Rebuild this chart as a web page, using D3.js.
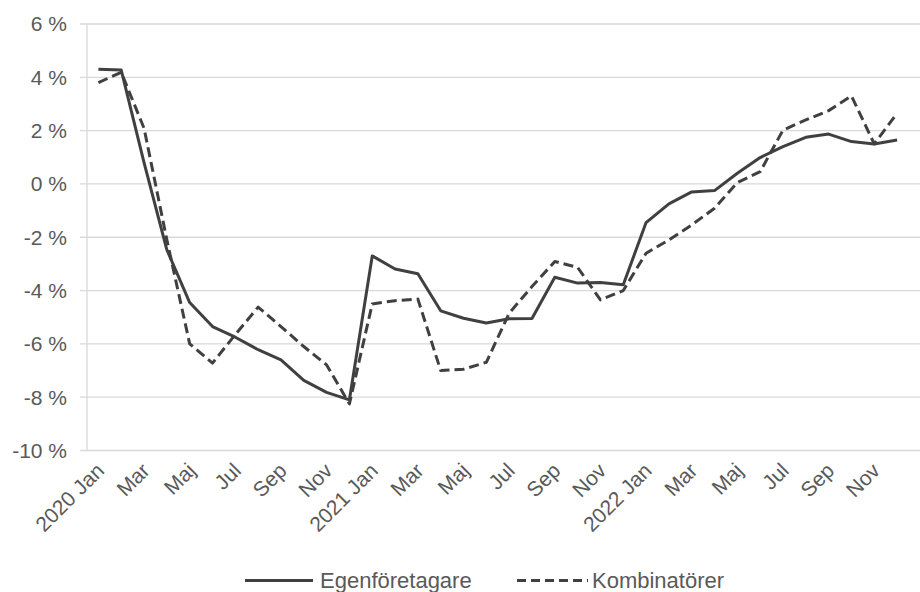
<!DOCTYPE html>
<html>
<head>
<meta charset="utf-8">
<script src="https://cdn.jsdelivr.net/npm/d3@7"></script>
<style>
  body { margin: 0; background: #fff; }
  text { font-family: "Liberation Sans", Arial, sans-serif; fill: #595959; }
</style>
</head>
<body>
<div id="chart"></div>
<script>
// months 2020 Jan .. 2022 Dec
var months = [
  "2020 Jan", "Feb", "Mar", "Apr", "Maj", "Jun", "Jul", "Aug", "Sep", "Okt", "Nov", "Dec",
  "2021 Jan", "Feb", "Mar", "Apr", "Maj", "Jun", "Jul", "Aug", "Sep", "Okt", "Nov", "Dec",
  "2022 Jan", "Feb", "Mar", "Apr", "Maj", "Jun", "Jul", "Aug", "Sep", "Okt", "Nov", "Dec"
];

// only every second month gets a label
var tickMonths = [
  "2020 Jan", "Mar", "Maj", "Jul", "Sep", "Nov",
  "2021 Jan", "Mar", "Maj", "Jul", "Sep", "Nov",
  "2022 Jan", "Mar", "Maj", "Jul", "Sep", "Nov"
];

var yTicks = [-10, -8, -6, -4, -2, 0, 2, 4, 6];

var egenforetagare = [
  4.30, 4.27, 0.8, -2.47, -4.45, -5.35, -5.75, -6.22, -6.6, -7.37, -7.82, -8.1,
  -2.7, -3.19, -3.37, -4.76, -5.04, -5.22, -5.06, -5.05, -3.5, -3.72, -3.7, -3.78,
  -1.45, -0.75, -0.3, -0.25, 0.4, 0.99, 1.4, 1.75, 1.87, 1.59, 1.5, 1.65
];

var kombinatorer = [
  3.8, 4.19, 2.09, -2.1, -6.0, -6.72, -5.65, -4.62, -5.35, -6.1, -6.79, -8.25,
  -4.5, -4.38, -4.32, -7.0, -6.95, -6.69, -4.85, -3.85, -2.91, -3.13, -4.35, -4.0,
  -2.6, -2.1, -1.54, -0.91, 0.05, 0.46, 2.02, 2.4, 2.75, 3.3, 1.5, 2.65
];

var svgWidth = 920;
var svgHeight = 592;

var margin = { top: 24, right: 0, bottom: 141.5, left: 87 };
var plotRight = 908.5;
var height = svgHeight - margin.top - margin.bottom;

var svg = d3.select("#chart")
  .append("svg")
  .attr("width", svgWidth)
  .attr("height", svgHeight);

var x = d3.scalePoint()
  .domain(d3.range(months.length))
  .range([margin.left, plotRight])
  .padding(0.5);

var y = d3.scaleLinear()
  .domain([-10, 6])
  .range([margin.top + height, margin.top]);

// horizontal grid lines (they also act as the small ticks left of the axis)
svg.append("g")
  .selectAll("line")
  .data(yTicks)
  .enter()
  .append("line")
  .attr("x1", margin.left - 7)
  .attr("x2", svgWidth)
  .attr("y1", d => y(d))
  .attr("y2", d => y(d))
  .attr("stroke", "#d9d9d9")
  .attr("stroke-width", 1.3);

// value axis line
svg.append("line")
  .attr("x1", margin.left)
  .attr("x2", margin.left)
  .attr("y1", y(6))
  .attr("y2", y(-10))
  .attr("stroke", "#d9d9d9")
  .attr("stroke-width", 1.3);

// y tick labels
svg.append("g")
  .selectAll("text")
  .data(yTicks)
  .enter()
  .append("text")
  .attr("x", 67)
  .attr("y", d => y(d))
  .attr("dy", "0.35em")
  .attr("text-anchor", "end")
  .attr("font-size", "21px")
  .text(d => d + " %");

// x tick labels, rotated
var labelled = d3.range(0, months.length, 2);
svg.append("g")
  .selectAll("text")
  .data(labelled)
  .enter()
  .append("text")
  .attr("transform", d => `translate(${x(d) + 7}, 472) rotate(-45)`)
  .attr("text-anchor", "end")
  .attr("font-size", "21px")
  .text((d, i) => tickMonths[i]);

var line = d3.line()
  .x((d, i) => x(i))
  .y(d => y(d));

svg.append("path")
  .datum(kombinatorer)
  .attr("fill", "none")
  .attr("stroke", "#404040")
  .attr("stroke-width", 3)
  .attr("stroke-dasharray", "10,5")
  .attr("stroke-linejoin", "round")
  .attr("d", line);

svg.append("path")
  .datum(egenforetagare)
  .attr("fill", "none")
  .attr("stroke", "#404040")
  .attr("stroke-width", 3)
  .attr("stroke-linejoin", "round")
  .attr("d", line);

// legend
var legend = svg.append("g");

legend.append("line")
  .attr("x1", 245).attr("x2", 313)
  .attr("y1", 580.5).attr("y2", 580.5)
  .attr("stroke", "#404040")
  .attr("stroke-width", 3);

legend.append("text")
  .attr("x", 320)
  .attr("y", 588)
  .attr("font-size", "22px")
  .text("Egenföretagare");

legend.append("line")
  .attr("x1", 517).attr("x2", 588)
  .attr("y1", 580.5).attr("y2", 580.5)
  .attr("stroke", "#404040")
  .attr("stroke-width", 3)
  .attr("stroke-dasharray", "9,5");

legend.append("text")
  .attr("x", 592)
  .attr("y", 588)
  .attr("font-size", "22px")
  .text("Kombinatörer");
</script>
</body>
</html>
